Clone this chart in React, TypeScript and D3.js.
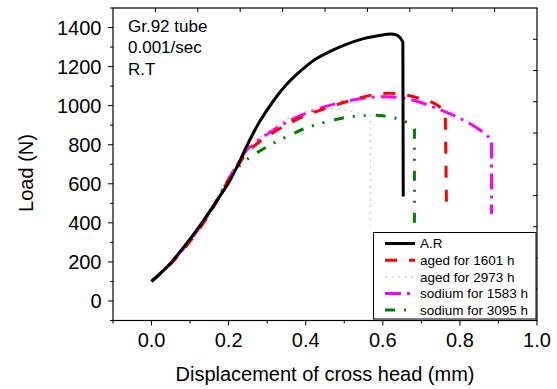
import React from "react";
import * as d3 from "d3";

// ---- data ----
const arX = [0, 0.025, 0.05, 0.075, 0.1, 0.125, 0.15, 0.175, 0.2, 0.225, 0.25, 0.275, 0.3, 0.325, 0.35, 0.375, 0.4, 0.425, 0.45, 0.5, 0.55, 0.6, 0.62, 0.635, 0.645, 0.652, 0.653];
const arY = [100, 145, 195, 255, 318, 385, 455, 530, 605, 700, 805, 900, 978, 1048, 1108, 1158, 1200, 1237, 1265, 1310, 1343, 1362, 1367, 1362, 1348, 1325, 535];

const aged1601X = [0, 0.05, 0.1, 0.15, 0.2, 0.22, 0.25, 0.3, 0.35, 0.4, 0.45, 0.5, 0.55, 0.6, 0.65, 0.7, 0.74, 0.762, 0.765];
const aged1601Y = [100, 190, 305, 445, 620, 680, 765, 842, 902, 950, 985, 1017, 1045, 1062, 1058, 1035, 1005, 965, 500];

const aged2973X = [0, 0.05, 0.1, 0.15, 0.2, 0.22, 0.25, 0.3, 0.35, 0.4, 0.45, 0.5, 0.54, 0.568, 0.568];
const aged2973Y = [100, 195, 310, 450, 625, 690, 785, 862, 930, 970, 985, 978, 962, 950, 385];

const sodium1583X = [0, 0.05, 0.1, 0.15, 0.2, 0.22, 0.25, 0.3, 0.35, 0.4, 0.45, 0.5, 0.55, 0.6, 0.65, 0.7, 0.75, 0.8, 0.85, 0.875, 0.882, 0.882];
const sodium1583Y = [100, 195, 310, 450, 625, 690, 780, 855, 915, 960, 995, 1020, 1038, 1046, 1040, 1015, 978, 935, 878, 838, 822, 445];

const sodium3095X = [0, 0.05, 0.1, 0.15, 0.2, 0.22, 0.25, 0.3, 0.35, 0.4, 0.45, 0.5, 0.55, 0.6, 0.65, 0.67, 0.682, 0.682];
const sodium3095Y = [100, 195, 312, 455, 620, 675, 728, 790, 840, 885, 915, 938, 950, 948, 925, 905, 880, 390];

const xMajorTicks = [0, 0.2, 0.4, 0.6, 0.8, 1.0];
const xMinorTicks = [-0.1, 0.1, 0.3, 0.5, 0.7, 0.9];
const yMajorTicks = [0, 200, 400, 600, 800, 1000, 1200, 1400];
const yMinorTicks = [-100, 100, 300, 500, 700, 900, 1100, 1300, 1500];

const seriesNames = ["A.R", "aged for 1601 h", "aged for 2973 h", "sodium for 1583 h", "sodium for 3095 h"];
const annotationLines = ["Gr.92 tube", "0.001/sec", "R.T"];

const styles = [
  { color: "#000000", width: 3, dash: "" },
  { color: "#ff0000", width: 3, dash: "12,12" },
  { color: "#c8c8ff", width: 1.5, dash: "2,4.5" },
  { color: "#ff00ff", width: 3, dash: "16,6,3,6" },
  { color: "#008000", width: 3, dash: "10,9,2,9,2,10" },
];

const FONT = "'Liberation Sans', Arial, Helvetica, sans-serif";

export default function App() {
  const W = 557, H = 389;
  const left = 113, right = 537, top = 8, bottom = 320.5;
  const x = d3.scaleLinear().domain([-0.1, 1.0]).range([left, right]);
  const y = d3.scaleLinear().domain([-100, 1500]).range([bottom, top]);
  const topIdx = d3.scaleLinear().domain([0, 10]).range([left, right]);
  const rightIdx = d3.scaleLinear().domain([0, 10]).range([bottom, top]);

  const seriesX = [arX, aged1601X, aged2973X, sodium1583X, sodium3095X];
  const seriesY = [arY, aged1601Y, aged2973Y, sodium1583Y, sodium3095Y];

  const smooth = d3
    .line<[number, number]>()
    .x((d) => x(d[0]))
    .y((d) => y(d[1]))
    .curve(d3.curveCatmullRom.alpha(0.5));

  // smooth loading curve, then a straight vertical drop to the last point
  const pathFor = (xs: number[], ys: number[]) => {
    const pts = xs.map((v, j) => [v, ys[j]] as [number, number]);
    const body = pts.slice(0, -1);
    const last = pts[pts.length - 1];
    return (smooth(body) || "") + `L${x(last[0])},${y(last[1])}`;
  };

  const legX0 = 373.5, legY0 = 232.5, legX1 = 536, legY1 = 319;
  const legRowY = d3.scaleLinear().domain([0, 4]).range([243.5, 310]);

  return (
    <div style={{ position: "absolute", left: 0, top: 0 }}>
      <svg width={W} height={H} style={{ display: "block" }} fontFamily={FONT}>
        <rect x={0} y={0} width={W} height={H} fill="#ffffff" />
        <defs>
          <clipPath id="plotclip">
            <rect x={left} y={top} width={right - left} height={bottom - top} />
          </clipPath>
        </defs>

        {/* series */}
        <g clipPath="url(#plotclip)">
          {seriesX
            .map((xs, i) => {
              const s = styles[i];
              return (
                <path
                  key={i}
                  d={pathFor(xs, seriesY[i])}
                  fill="none"
                  stroke={s.color}
                  strokeWidth={s.width}
                  strokeDasharray={s.dash || undefined}
                  strokeLinejoin="round"
                />
              );
            })
            .reverse()}
        </g>

        {/* frame */}
        <rect x={left} y={top} width={right - left} height={bottom - top} fill="none" stroke="#000" strokeWidth={1.2} />

        {/* bottom axis ticks */}
        {xMajorTicks.map((t) => (
          <g key={"xM" + t}>
            <line x1={x(t)} x2={x(t)} y1={bottom} y2={bottom + 5} stroke="#000" strokeWidth={1} />
            <text x={x(t)} y={347} textAnchor="middle" fontSize={20} fill="#000">{t.toFixed(1)}</text>
          </g>
        ))}
        {xMinorTicks.map((t) => (
          <line key={"xm" + t} x1={x(t)} x2={x(t)} y1={bottom} y2={bottom + 3} stroke="#000" strokeWidth={1} />
        ))}

        {/* left axis ticks */}
        {yMajorTicks.map((t) => (
          <g key={"yM" + t}>
            <line x1={left - 5} x2={left} y1={y(t)} y2={y(t)} stroke="#000" strokeWidth={1} />
            <text x={101.5} y={y(t)} dy="0.36em" textAnchor="end" fontSize={20} fill="#000">{t}</text>
          </g>
        ))}
        {yMinorTicks.map((t) => (
          <line key={"ym" + t} x1={left - 3} x2={left} y1={y(t)} y2={y(t)} stroke="#000" strokeWidth={1} />
        ))}

        {/* top and right axis ticks (inward) */}
        {d3.range(1, 10).map((i) => (
          <line key={"t" + i} x1={topIdx(i)} x2={topIdx(i)} y1={top} y2={top + 4} stroke="#000" strokeWidth={1} />
        ))}
        {d3.range(1, 10).map((i) => (
          <line key={"r" + i} x1={right - 4} x2={right} y1={rightIdx(i)} y2={rightIdx(i)} stroke="#000" strokeWidth={1} />
        ))}

        {/* axis titles */}
        <text x={325} y={381} textAnchor="middle" fontSize={20} fill="#000">Displacement of cross head (mm)</text>
        <text transform="translate(33,173) rotate(-90)" textAnchor="middle" fontSize={20} fill="#000">Load (N)</text>

        {/* annotation */}
        {annotationLines.map((s, i) => (
          <text key={s} x={128} y={31.5 + i * 21.7} fontSize={17} fill="#000">{s}</text>
        ))}

        {/* legend */}
        <rect x={legX0} y={legY0} width={legX1 - legX0} height={legY1 - legY0} fill="#ffffff" stroke="#000" strokeWidth={1} />
        {seriesNames.map((name, i) => {
          const s = styles[i];
          const ly = legRowY(i);
          return (
            <g key={name}>
              <line x1={385} x2={415} y1={ly} y2={ly} stroke={s.color} strokeWidth={s.width} strokeDasharray={s.dash || undefined} />
              <text x={420} y={ly} dy="0.36em" fontSize={13.5} fill="#000">{name}</text>
            </g>
          );
        })}
      </svg>
    </div>
  );
}
